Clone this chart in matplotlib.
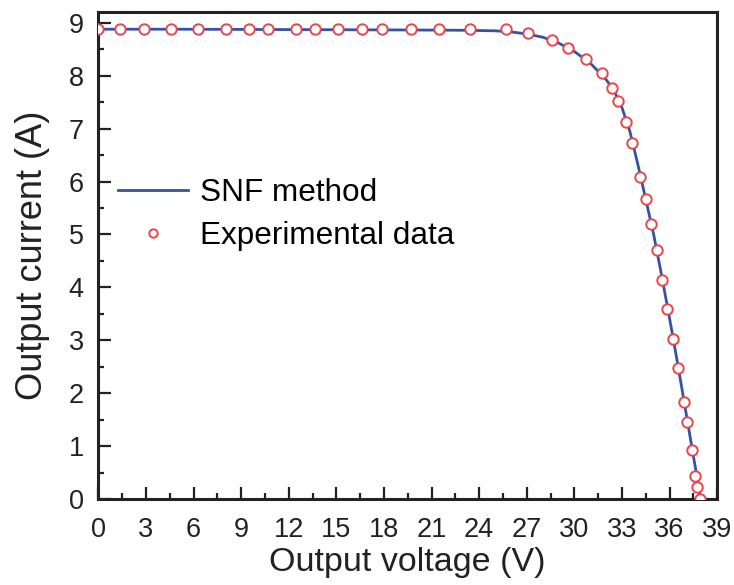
import matplotlib
matplotlib.use("Agg")
import matplotlib.pyplot as plt
from matplotlib.ticker import MultipleLocator

plt.rcParams['font.family'] = ['Liberation Sans', 'DejaVu Sans']

# experimental I-V points
exp_v = [0.0, 1.35, 2.9, 4.6, 6.3, 8.05, 9.5, 10.7, 12.45, 13.65, 15.1, 16.6,
         17.9, 19.7, 21.5, 23.4, 25.68, 27.08, 28.62, 29.63, 30.72, 31.77,
         32.4, 32.78, 33.24, 33.62, 34.16, 34.5, 34.86, 35.21, 35.55, 35.84,
         36.24, 36.56, 36.91, 37.08, 37.44, 37.59, 37.73, 37.95]
exp_i = [8.88, 8.88, 8.88, 8.88, 8.88, 8.88, 8.88, 8.88, 8.88, 8.88, 8.88, 8.88,
         8.88, 8.88, 8.88, 8.88, 8.88, 8.81, 8.68, 8.53, 8.32, 8.05,
         7.76, 7.53, 7.13, 6.72, 6.09, 5.68, 5.19, 4.71, 4.14, 3.59,
         3.02, 2.47, 1.83, 1.45, 0.93, 0.43, 0.23, 0.0]

# SNF model curve
snf_v = [0, 5, 10, 15, 20, 23, 25, 26, 27, 28, 29, 30, 31, 32, 32.5, 33,
         33.5, 34, 34.5, 35, 35.5, 36, 36.5, 37, 37.5, 37.97]
snf_i = [8.88, 8.88, 8.875, 8.87, 8.865, 8.86, 8.85, 8.83, 8.79, 8.73, 8.62,
         8.46, 8.24, 7.93, 7.72, 7.40, 6.95, 6.33, 5.67, 5.00, 4.23, 3.42,
         2.58, 1.70, 0.82, 0.0]

fig = plt.figure(figsize=(7.34, 5.85), dpi=100)
ax = fig.add_axes([0.134, 0.147, 0.843, 0.832])

ax.plot(snf_v, snf_i, '-', color='#3552a3', lw=2.0, label='SNF method', zorder=2)
ax.plot(exp_v, exp_i, 'o', mfc='white', mec='#e8474a', mew=1.4, ms=7.5,
        label='Experimental data', zorder=3)

ax.set_xlim(0, 39)
ax.set_ylim(0, 9.2)
ax.xaxis.set_major_locator(MultipleLocator(3))
ax.xaxis.set_minor_locator(MultipleLocator(1.5))
ax.yaxis.set_major_locator(MultipleLocator(1))
ax.yaxis.set_minor_locator(MultipleLocator(0.5))
ax.tick_params(which='both', direction='in', width=1.6, labelsize=19.5, colors='#222222')
ax.tick_params(which='major', length=9)
ax.tick_params(which='minor', length=4.5)
ax.tick_params(axis='x', pad=13)
ax.tick_params(axis='y', pad=10.5)
for s in ax.spines.values():
    s.set_linewidth(2.2)
    s.set_color('#222222')

ax.set_xlabel('Output voltage (V)', fontsize=24.5, labelpad=3, color='#222222')
ax.set_ylabel('Output current (A)', fontsize=26, labelpad=13, color='#222222')

ax.legend(loc='center left', bbox_to_anchor=(0.031, 0.585), frameon=False,
          fontsize=22.7, handlelength=2.22, handletextpad=0.38, labelspacing=0.41,
          borderpad=0, borderaxespad=0, markerscale=0.8)

plt.savefig('out.png', dpi=100)
